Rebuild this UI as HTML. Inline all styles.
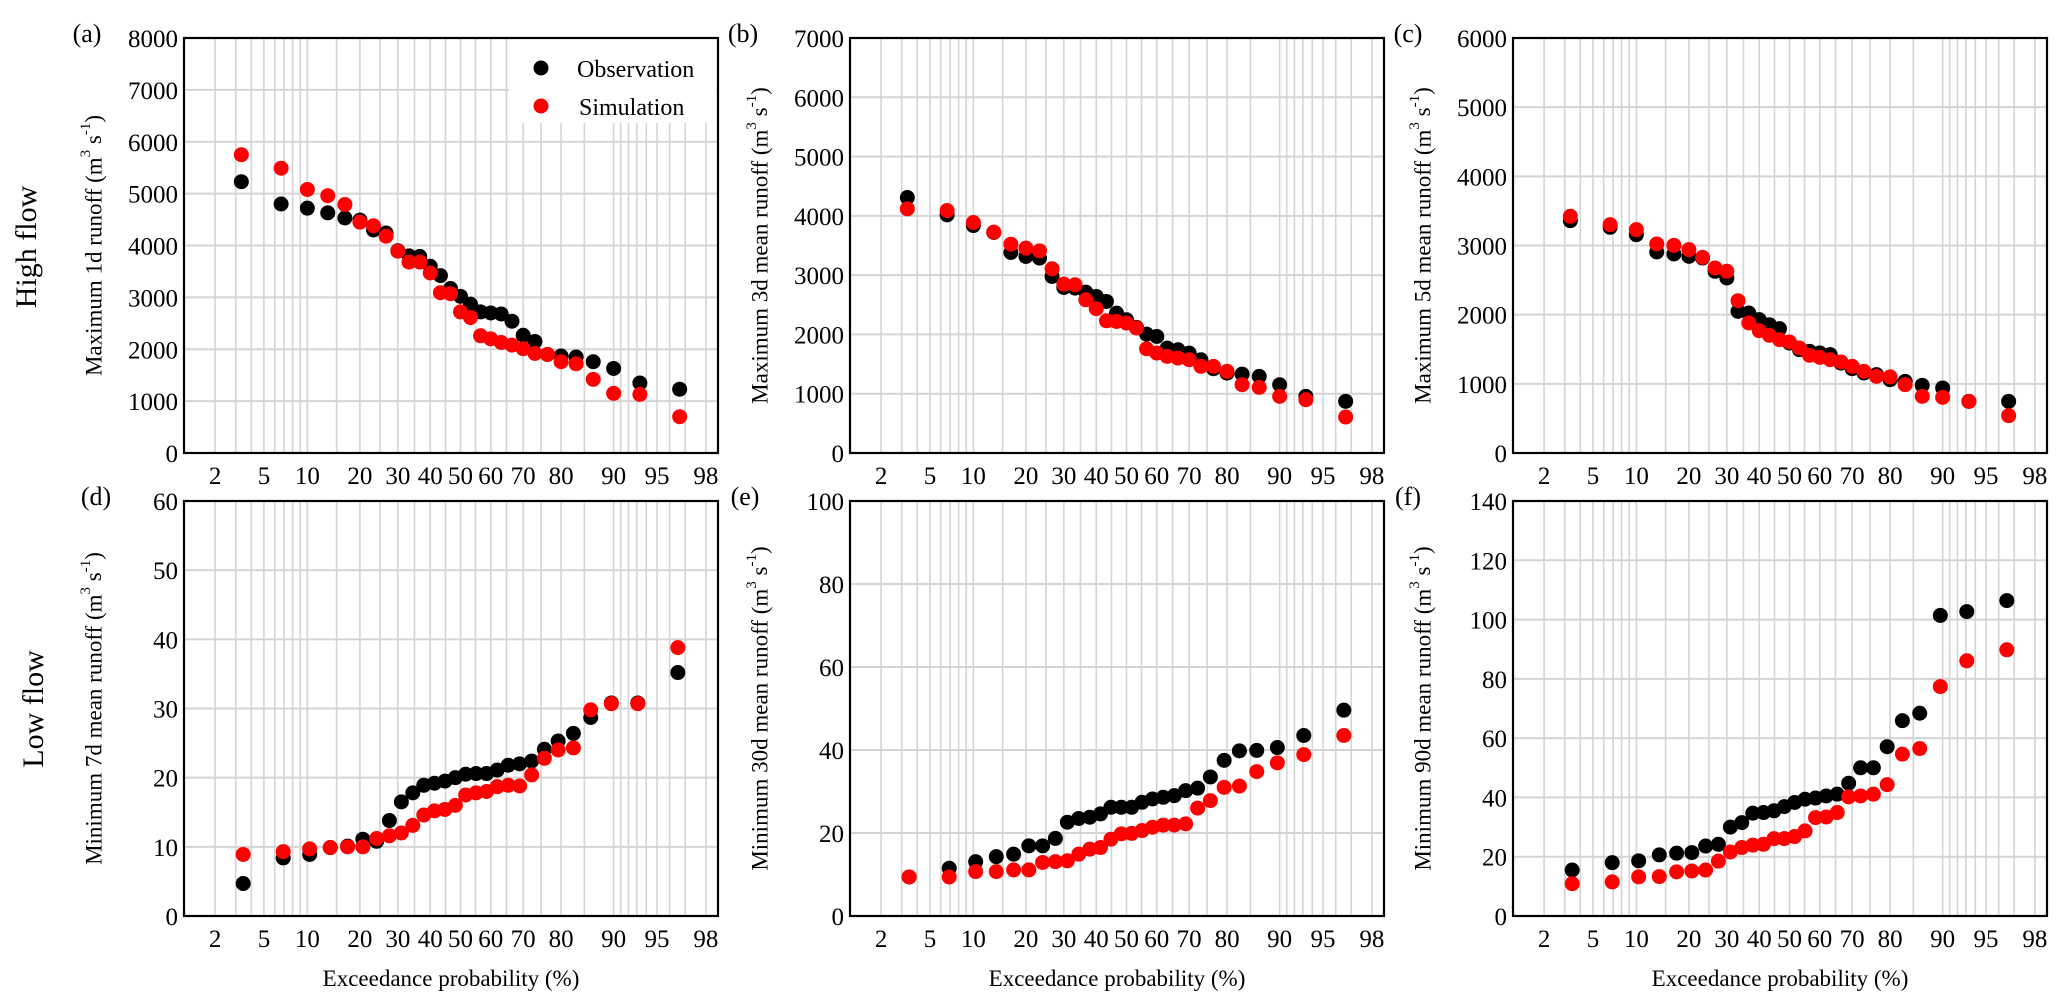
<!DOCTYPE html>
<html><head><meta charset="utf-8">
<style>
html,body{margin:0;padding:0;background:#fff;}
svg{display:block;font-family:"Liberation Serif","DejaVu Serif",serif;}
</style></head>
<body>
<svg id="fig" width="2067" height="1003" viewBox="0 0 2067 1003" xmlns="http://www.w3.org/2000/svg">
<text x="29" y="247" font-size="30" text-anchor="middle" transform="rotate(-90 29 247)" dominant-baseline="middle">High flow</text>
<text x="36" y="709" font-size="30" text-anchor="middle" transform="rotate(-90 36 709)" dominant-baseline="middle">Low flow</text>
</svg>
<script>
// shared x ticks / gridlines (exceedance probability, %)
const xTickLabels = [2,5,10,20,30,40,50,60,70,80,90,95,98];
const xGridValues = [2,3,4,5,6,7,8,9,10,15,20,25,30,35,40,45,50,55,60,65,70,75,80,85,90,91,92,93,94,95,96,97,98];

// panel (a) Maximum 1d runoff
const aObs = [5230,4800,4720,4630,4530,4490,4300,4240,3900,3800,3790,3600,3420,3170,3020,2870,2720,2700,2680,2540,2270,2150,1900,1870,1850,1760,1630,1350,1230];
const aSim = [5750,5490,5080,4960,4790,4450,4380,4180,3890,3680,3680,3470,3090,3070,2720,2610,2260,2200,2130,2080,2010,1920,1900,1760,1720,1420,1150,1130,700];
const aYTicks = [0,1000,2000,3000,4000,5000,6000,7000,8000];
// panel (b) Maximum 3d mean runoff
const bObs = [4309,4017,3837,3720,3382,3315,3287,2978,2792,2781,2713,2640,2556,2360,2247,2118,2006,1966,1770,1742,1685,1573,1421,1348,1331,1292,1152,955,871];
const bSim = [4118,4090,3888,3725,3522,3455,3410,3107,2848,2837,2584,2433,2230,2219,2191,2107,1758,1685,1629,1601,1573,1461,1461,1376,1152,1107,955,899,607];
const bYTicks = [0,1000,2000,3000,4000,5000,6000,7000];
// panel (c) Maximum 5d mean runoff
const cObs = [3359,3263,3157,2906,2877,2843,2819,2627,2530,2048,2024,1928,1855,1798,1590,1494,1470,1446,1422,1300,1219,1157,1133,1060,1036,978,940,747,747];
const cSim = [3422,3301,3229,3022,3002,2940,2829,2675,2627,2202,1880,1769,1701,1639,1605,1518,1412,1383,1349,1316,1253,1180,1108,1100,988,819,805,747,540];
const cYTicks = [0,1000,2000,3000,4000,5000,6000];
// panel (d) Minimum 7d mean runoff
const dObs = [4.7,8.4,8.9,9.9,10.1,11.1,10.8,13.8,16.5,17.8,18.9,19.2,19.5,20,20.5,20.6,20.6,21.1,21.8,22,22.4,24.1,25.3,26.4,28.7,30.8,30.8,35.2];
const dSim = [8.9,9.3,9.7,9.9,10,10,11.2,11.6,12,13.1,14.6,15.2,15.4,16,17.5,17.8,18,18.7,18.9,18.8,20.4,22.8,24,24.3,29.8,30.7,30.7,38.8];
const dYTicks = [0,10,20,30,40,50,60];
// panel (e) Minimum 30d mean runoff
const eObs = [9.4,11.5,13.1,14.3,14.9,16.9,16.9,18.7,22.6,23.5,23.8,24.6,26.2,26.2,26.2,27.4,28.2,28.6,29,30.2,30.8,33.5,37.5,39.8,39.9,40.6,43.5,49.6];
const eSim = [9.4,9.4,10.7,10.7,11.1,11.1,12.9,13.1,13.3,14.9,16.1,16.5,18.5,19.8,19.9,20.6,21.4,21.9,21.9,22.2,26,27.8,31,31.3,34.8,36.9,38.9,43.5];
const eYTicks = [0,20,40,60,80,100];
// panel (f) Minimum 90d mean runoff
const fObs = [15.5,18,18.6,20.6,21.2,21.4,23.6,24.2,30,31.5,34.7,34.9,35.5,36.9,38.3,39.4,39.8,40.5,41.1,44.8,50,50,57.1,65.9,68.4,101.4,102.7,106.4];
const fSim = [10.9,11.5,13.2,13.3,14.9,15.2,15.5,18.5,21.6,23.1,23.9,24.2,26.1,26.1,26.8,28.7,33.2,33.4,34.9,40.2,40.5,41.1,44.3,54.6,56.5,77.4,86.1,89.8];
const fYTicks = [0,20,40,60,80,100,120,140];

const NS = "http://www.w3.org/2000/svg";
const svg = document.getElementById('fig');
const PW = 534, PH = 415;

function invNorm(p){
  const a=[-3.969683028665376e+01,2.209460984245205e+02,-2.759285104469687e+02,1.383577518672690e+02,-3.066479806614716e+01,2.506628277459239e+00];
  const b=[-5.447609879822406e+01,1.615858368580409e+02,-1.556989798598866e+02,6.680131188771972e+01,-1.328068155288572e+01];
  const c=[-7.784894002430293e-03,-3.223964580411365e-01,-2.400758277161838e+00,-2.549732539343734e+00,4.374664141464968e+00,2.938163982698783e+00];
  const d=[7.784695709041462e-03,3.224671290700398e-01,2.445134137142996e+00,3.754408661907416e+00];
  const pl=0.02425;
  let q,r;
  if(p<pl){q=Math.sqrt(-2*Math.log(p));return (((((c[0]*q+c[1])*q+c[2])*q+c[3])*q+c[4])*q+c[5])/((((d[0]*q+d[1])*q+d[2])*q+d[3])*q+1);}
  if(p>1-pl){q=Math.sqrt(-2*Math.log(1-p));return -(((((c[0]*q+c[1])*q+c[2])*q+c[3])*q+c[4])*q+c[5])/((((d[0]*q+d[1])*q+d[2])*q+d[3])*q+1);}
  q=p-0.5;r=q*q;
  return (((((a[0]*r+a[1])*r+a[2])*r+a[3])*r+a[4])*r+a[5])*q/(((((b[0]*r+b[1])*r+b[2])*r+b[3])*r+b[4])*r+1);
}
function mk(tag, attrs, parent){
  const e=document.createElementNS(NS,tag);
  for(const k in attrs) e.setAttribute(k,attrs[k]);
  (parent||svg).appendChild(e);
  return e;
}

const panels = [
  {id:'a', left:184, top:38, obs:aObs, sim:aSim, ticks:aYTicks, title:'Maximum 1d runoff', lx:87},
  {id:'b', left:850, top:38, obs:bObs, sim:bSim, ticks:bYTicks, title:'Maximum 3d mean runoff', lx:743},
  {id:'c', left:1513, top:38, obs:cObs, sim:cSim, ticks:cYTicks, title:'Maximum 5d mean runoff', lx:1408},
  {id:'d', left:184, top:501, obs:dObs, sim:dSim, ticks:dYTicks, title:'Minimum 7d mean runoff', lx:96},
  {id:'e', left:850, top:501, obs:eObs, sim:eSim, ticks:eYTicks, title:'Minimum 30d mean runoff', lx:745},
  {id:'f', left:1513, top:501, obs:fObs, sim:fSim, ticks:fYTicks, title:'Minimum 90d mean runoff', lx:1408}
];

panels.forEach(P=>{
  const g = mk('g',{});
  
  
  const ymax = P.ticks[P.ticks.length-1];
  const xs = p => P.left + 276.5 + 119.5*invNorm(p/100);
  const ys = v => P.top + PH - v/ymax*PH;
  xGridValues.forEach(v=>{
    const l=mk('line',{x1:xs(v),x2:xs(v),y1:P.top,y2:P.top+PH,stroke:'#d4d4d4','stroke-width':1.6},g);
    
    
  });
  P.ticks.forEach(v=>{
    const l=mk('line',{x1:P.left,x2:P.left+PW,y1:ys(v),y2:ys(v),stroke:'#d4d4d4','stroke-width':2},g);
    
    
    const t=mk('text',{x:P.left-6,y:ys(v)+9,'font-size':25,'text-anchor':'end'},g);
    t.textContent=v;
    
    
  });
  xTickLabels.forEach(v=>{
    const t=mk('text',{x:xs(v),y:P.top+PH+31,'font-size':25,'text-anchor':'middle'},g);
    t.textContent=v;
    
    
  });
  if(P.id==='a'){
    const lg=mk('g',{},g);
    
    
    mk('rect',{x:509,y:P.top+1,width:207,height:84,fill:'#fff'},lg);
    const c1=mk('circle',{cx:541,cy:68,r:7.5,fill:'#000'},lg);
    
    
    const t1=mk('text',{x:577,y:77,'font-size':24},lg);
    t1.textContent='Observation';
    
    
    const c2=mk('circle',{cx:541,cy:106,r:7.5,fill:'#ff0000'},lg);
    
    
    const t2=mk('text',{x:579,y:115,'font-size':24},lg);
    t2.textContent='Simulation';
    
    
  }
  const n = P.obs.length;
  P.obs.forEach((v,i)=>{
    const c=mk('circle',{cx:xs((i+1)/(n+1)*100),cy:ys(v),r:7.5,fill:'#000'},g);
    
    
  });
  P.sim.forEach((v,i)=>{
    const c=mk('circle',{cx:xs((i+1)/(n+1)*100),cy:ys(v),r:7.5,fill:'#ff0000'},g);
    
    
  });
  const fr=mk('rect',{x:P.left,y:P.top,width:PW,height:PH,fill:'none',stroke:'#000','stroke-width':2.2},g);
  
  
  const tx=P.left-88, ty=P.top+PH/2;
  const yt=mk('text',{x:tx,y:ty,'font-size':23,'text-anchor':'middle','dominant-baseline':'middle',transform:`rotate(-90 ${tx} ${ty})`},g);
  
  
  yt.innerHTML = P.title+' (m<tspan dy="-9" font-size="15">3</tspan><tspan dy="9"> s</tspan><tspan dy="-9" font-size="15">-1</tspan><tspan dy="9">)</tspan>';
  const pl=mk('text',{x:P.lx,y:P.top+4,'font-size':26,'text-anchor':'middle'},g);
  pl.textContent='('+P.id+')';
  
  
  if(P.top>400){
    const xt=mk('text',{x:P.left+PW/2,y:986,'font-size':23,'text-anchor':'middle'},g);
    xt.textContent='Exceedance probability (%)';
    
    
  }
});
</script>
</body></html>
